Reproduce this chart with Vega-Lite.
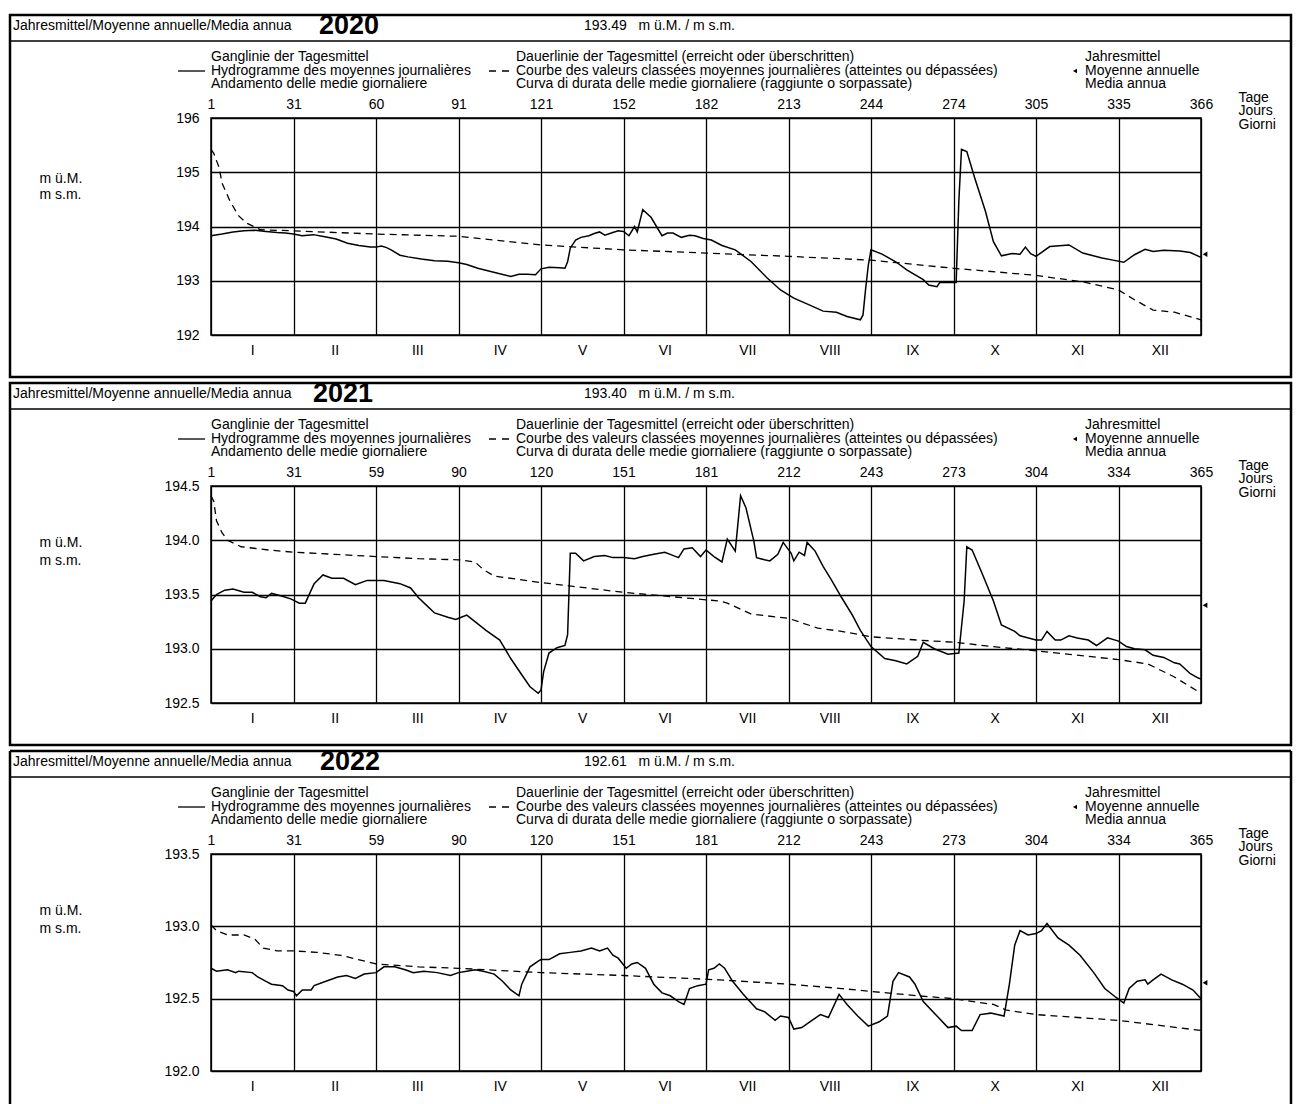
{
  "$schema": "https://vega.github.io/schema/vega-lite/v6.json",
  "background": "white",
  "padding": {"left": 8, "top": 11, "right": 0, "bottom": 0},
  "datasets": {
    "levels": [
      {"year":2020,"series":"Ganglinie","day":1,"level":193.83},{"year":2020,"series":"Ganglinie","day":5,"level":193.86},{"year":2020,"series":"Ganglinie","day":9,"level":193.90},{"year":2020,"series":"Ganglinie","day":13,"level":193.92},{"year":2020,"series":"Ganglinie","day":17,"level":193.93},{"year":2020,"series":"Ganglinie","day":21,"level":193.91},{"year":2020,"series":"Ganglinie","day":25,"level":193.89},{"year":2020,"series":"Ganglinie","day":28,"level":193.88},{"year":2020,"series":"Ganglinie","day":31,"level":193.86},{"year":2020,"series":"Ganglinie","day":34,"level":193.83},{"year":2020,"series":"Ganglinie","day":38,"level":193.85},{"year":2020,"series":"Ganglinie","day":42,"level":193.81},{"year":2020,"series":"Ganglinie","day":46,"level":193.77},{"year":2020,"series":"Ganglinie","day":50,"level":193.69},{"year":2020,"series":"Ganglinie","day":54,"level":193.65},{"year":2020,"series":"Ganglinie","day":58,"level":193.62},{"year":2020,"series":"Ganglinie","day":60,"level":193.62},{"year":2020,"series":"Ganglinie","day":62,"level":193.64},{"year":2020,"series":"Ganglinie","day":64,"level":193.61},{"year":2020,"series":"Ganglinie","day":66,"level":193.56},{"year":2020,"series":"Ganglinie","day":69,"level":193.47},{"year":2020,"series":"Ganglinie","day":72,"level":193.44},{"year":2020,"series":"Ganglinie","day":77,"level":193.40},{"year":2020,"series":"Ganglinie","day":82,"level":193.37},{"year":2020,"series":"Ganglinie","day":87,"level":193.36},{"year":2020,"series":"Ganglinie","day":91,"level":193.33},{"year":2020,"series":"Ganglinie","day":94,"level":193.30},{"year":2020,"series":"Ganglinie","day":98,"level":193.23},{"year":2020,"series":"Ganglinie","day":102,"level":193.18},{"year":2020,"series":"Ganglinie","day":106,"level":193.13},{"year":2020,"series":"Ganglinie","day":110,"level":193.08},{"year":2020,"series":"Ganglinie","day":113,"level":193.12},{"year":2020,"series":"Ganglinie","day":116,"level":193.12},{"year":2020,"series":"Ganglinie","day":119,"level":193.11},{"year":2020,"series":"Ganglinie","day":121,"level":193.22},{"year":2020,"series":"Ganglinie","day":124,"level":193.25},{"year":2020,"series":"Ganglinie","day":128,"level":193.24},{"year":2020,"series":"Ganglinie","day":130,"level":193.23},{"year":2020,"series":"Ganglinie","day":131,"level":193.35},{"year":2020,"series":"Ganglinie","day":132,"level":193.60},{"year":2020,"series":"Ganglinie","day":134,"level":193.75},{"year":2020,"series":"Ganglinie","day":136,"level":193.80},{"year":2020,"series":"Ganglinie","day":139,"level":193.83},{"year":2020,"series":"Ganglinie","day":141,"level":193.87},{"year":2020,"series":"Ganglinie","day":143,"level":193.90},{"year":2020,"series":"Ganglinie","day":145,"level":193.84},{"year":2020,"series":"Ganglinie","day":148,"level":193.89},{"year":2020,"series":"Ganglinie","day":150,"level":193.92},{"year":2020,"series":"Ganglinie","day":152,"level":193.91},{"year":2020,"series":"Ganglinie","day":154,"level":193.83},{"year":2020,"series":"Ganglinie","day":156,"level":194.00},{"year":2020,"series":"Ganglinie","day":157,"level":193.90},{"year":2020,"series":"Ganglinie","day":159,"level":194.31},{"year":2020,"series":"Ganglinie","day":162,"level":194.17},{"year":2020,"series":"Ganglinie","day":164,"level":194.00},{"year":2020,"series":"Ganglinie","day":166,"level":193.83},{"year":2020,"series":"Ganglinie","day":168,"level":193.88},{"year":2020,"series":"Ganglinie","day":170,"level":193.88},{"year":2020,"series":"Ganglinie","day":173,"level":193.80},{"year":2020,"series":"Ganglinie","day":176,"level":193.84},{"year":2020,"series":"Ganglinie","day":178,"level":193.83},{"year":2020,"series":"Ganglinie","day":181,"level":193.78},{"year":2020,"series":"Ganglinie","day":184,"level":193.75},{"year":2020,"series":"Ganglinie","day":188,"level":193.65},{"year":2020,"series":"Ganglinie","day":193,"level":193.57},{"year":2020,"series":"Ganglinie","day":199,"level":193.35},{"year":2020,"series":"Ganglinie","day":205,"level":193.05},{"year":2020,"series":"Ganglinie","day":210,"level":192.83},{"year":2020,"series":"Ganglinie","day":215,"level":192.68},{"year":2020,"series":"Ganglinie","day":221,"level":192.55},{"year":2020,"series":"Ganglinie","day":226,"level":192.44},{"year":2020,"series":"Ganglinie","day":231,"level":192.42},{"year":2020,"series":"Ganglinie","day":235,"level":192.34},{"year":2020,"series":"Ganglinie","day":240,"level":192.28},{"year":2020,"series":"Ganglinie","day":241,"level":192.37},{"year":2020,"series":"Ganglinie","day":242,"level":192.86},{"year":2020,"series":"Ganglinie","day":243,"level":193.29},{"year":2020,"series":"Ganglinie","day":244,"level":193.57},{"year":2020,"series":"Ganglinie","day":248,"level":193.49},{"year":2020,"series":"Ganglinie","day":253,"level":193.35},{"year":2020,"series":"Ganglinie","day":257,"level":193.20},{"year":2020,"series":"Ganglinie","day":263,"level":193.02},{"year":2020,"series":"Ganglinie","day":265,"level":192.92},{"year":2020,"series":"Ganglinie","day":268,"level":192.89},{"year":2020,"series":"Ganglinie","day":269,"level":192.97},{"year":2020,"series":"Ganglinie","day":272,"level":192.97},{"year":2020,"series":"Ganglinie","day":275,"level":192.97},{"year":2020,"series":"Ganglinie","day":276,"level":194.46},{"year":2020,"series":"Ganglinie","day":277,"level":195.42},{"year":2020,"series":"Ganglinie","day":279,"level":195.38},{"year":2020,"series":"Ganglinie","day":282,"level":194.89},{"year":2020,"series":"Ganglinie","day":286,"level":194.28},{"year":2020,"series":"Ganglinie","day":289,"level":193.72},{"year":2020,"series":"Ganglinie","day":292,"level":193.46},{"year":2020,"series":"Ganglinie","day":296,"level":193.50},{"year":2020,"series":"Ganglinie","day":299,"level":193.49},{"year":2020,"series":"Ganglinie","day":301,"level":193.62},{"year":2020,"series":"Ganglinie","day":303,"level":193.50},{"year":2020,"series":"Ganglinie","day":305,"level":193.45},{"year":2020,"series":"Ganglinie","day":310,"level":193.63},{"year":2020,"series":"Ganglinie","day":317,"level":193.66},{"year":2020,"series":"Ganglinie","day":322,"level":193.51},{"year":2020,"series":"Ganglinie","day":329,"level":193.42},{"year":2020,"series":"Ganglinie","day":333,"level":193.38},{"year":2020,"series":"Ganglinie","day":337,"level":193.34},{"year":2020,"series":"Ganglinie","day":341,"level":193.48},{"year":2020,"series":"Ganglinie","day":345,"level":193.58},{"year":2020,"series":"Ganglinie","day":348,"level":193.54},{"year":2020,"series":"Ganglinie","day":352,"level":193.56},{"year":2020,"series":"Ganglinie","day":358,"level":193.55},{"year":2020,"series":"Ganglinie","day":362,"level":193.52},{"year":2020,"series":"Ganglinie","day":366,"level":193.43},
      {"year":2020,"series":"Dauerlinie","day":1,"level":195.42},{"year":2020,"series":"Dauerlinie","day":2,"level":195.35},{"year":2020,"series":"Dauerlinie","day":4,"level":195.08},{"year":2020,"series":"Dauerlinie","day":5,"level":194.80},{"year":2020,"series":"Dauerlinie","day":8,"level":194.46},{"year":2020,"series":"Dauerlinie","day":11,"level":194.20},{"year":2020,"series":"Dauerlinie","day":14,"level":194.06},{"year":2020,"series":"Dauerlinie","day":19,"level":193.94},{"year":2020,"series":"Dauerlinie","day":31,"level":193.92},{"year":2020,"series":"Dauerlinie","day":60,"level":193.86},{"year":2020,"series":"Dauerlinie","day":91,"level":193.82},{"year":2020,"series":"Dauerlinie","day":121,"level":193.66},{"year":2020,"series":"Dauerlinie","day":152,"level":193.57},{"year":2020,"series":"Dauerlinie","day":182,"level":193.51},{"year":2020,"series":"Dauerlinie","day":213,"level":193.45},{"year":2020,"series":"Dauerlinie","day":244,"level":193.38},{"year":2020,"series":"Dauerlinie","day":274,"level":193.23},{"year":2020,"series":"Dauerlinie","day":305,"level":193.10},{"year":2020,"series":"Dauerlinie","day":323,"level":192.97},{"year":2020,"series":"Dauerlinie","day":335,"level":192.83},{"year":2020,"series":"Dauerlinie","day":341,"level":192.65},{"year":2020,"series":"Dauerlinie","day":348,"level":192.46},{"year":2020,"series":"Dauerlinie","day":356,"level":192.42},{"year":2020,"series":"Dauerlinie","day":366,"level":192.28},
      {"year":2020,"series":"Jahresmittel","day":366,"level":193.49},
      {"year":2021,"series":"Ganglinie","day":1,"level":193.44},{"year":2021,"series":"Ganglinie","day":3,"level":193.50},{"year":2021,"series":"Ganglinie","day":6,"level":193.54},{"year":2021,"series":"Ganglinie","day":9,"level":193.55},{"year":2021,"series":"Ganglinie","day":13,"level":193.52},{"year":2021,"series":"Ganglinie","day":16,"level":193.52},{"year":2021,"series":"Ganglinie","day":19,"level":193.48},{"year":2021,"series":"Ganglinie","day":21,"level":193.47},{"year":2021,"series":"Ganglinie","day":23,"level":193.51},{"year":2021,"series":"Ganglinie","day":26,"level":193.49},{"year":2021,"series":"Ganglinie","day":30,"level":193.46},{"year":2021,"series":"Ganglinie","day":33,"level":193.42},{"year":2021,"series":"Ganglinie","day":35,"level":193.42},{"year":2021,"series":"Ganglinie","day":36,"level":193.48},{"year":2021,"series":"Ganglinie","day":38,"level":193.60},{"year":2021,"series":"Ganglinie","day":41,"level":193.68},{"year":2021,"series":"Ganglinie","day":44,"level":193.65},{"year":2021,"series":"Ganglinie","day":48,"level":193.65},{"year":2021,"series":"Ganglinie","day":52,"level":193.59},{"year":2021,"series":"Ganglinie","day":56,"level":193.63},{"year":2021,"series":"Ganglinie","day":62,"level":193.63},{"year":2021,"series":"Ganglinie","day":68,"level":193.60},{"year":2021,"series":"Ganglinie","day":72,"level":193.56},{"year":2021,"series":"Ganglinie","day":75,"level":193.47},{"year":2021,"series":"Ganglinie","day":78,"level":193.40},{"year":2021,"series":"Ganglinie","day":81,"level":193.33},{"year":2021,"series":"Ganglinie","day":86,"level":193.29},{"year":2021,"series":"Ganglinie","day":89,"level":193.27},{"year":2021,"series":"Ganglinie","day":91,"level":193.29},{"year":2021,"series":"Ganglinie","day":93,"level":193.31},{"year":2021,"series":"Ganglinie","day":96,"level":193.25},{"year":2021,"series":"Ganglinie","day":100,"level":193.17},{"year":2021,"series":"Ganglinie","day":105,"level":193.08},{"year":2021,"series":"Ganglinie","day":109,"level":192.91},{"year":2021,"series":"Ganglinie","day":113,"level":192.76},{"year":2021,"series":"Ganglinie","day":116,"level":192.65},{"year":2021,"series":"Ganglinie","day":119,"level":192.59},{"year":2021,"series":"Ganglinie","day":120,"level":192.62},{"year":2021,"series":"Ganglinie","day":121,"level":192.79},{"year":2021,"series":"Ganglinie","day":123,"level":192.96},{"year":2021,"series":"Ganglinie","day":126,"level":193.01},{"year":2021,"series":"Ganglinie","day":129,"level":193.03},{"year":2021,"series":"Ganglinie","day":130,"level":193.13},{"year":2021,"series":"Ganglinie","day":131,"level":193.88},{"year":2021,"series":"Ganglinie","day":133,"level":193.88},{"year":2021,"series":"Ganglinie","day":136,"level":193.81},{"year":2021,"series":"Ganglinie","day":140,"level":193.85},{"year":2021,"series":"Ganglinie","day":144,"level":193.86},{"year":2021,"series":"Ganglinie","day":147,"level":193.84},{"year":2021,"series":"Ganglinie","day":151,"level":193.84},{"year":2021,"series":"Ganglinie","day":155,"level":193.83},{"year":2021,"series":"Ganglinie","day":158,"level":193.85},{"year":2021,"series":"Ganglinie","day":162,"level":193.87},{"year":2021,"series":"Ganglinie","day":166,"level":193.89},{"year":2021,"series":"Ganglinie","day":168,"level":193.87},{"year":2021,"series":"Ganglinie","day":171,"level":193.84},{"year":2021,"series":"Ganglinie","day":173,"level":193.92},{"year":2021,"series":"Ganglinie","day":176,"level":193.93},{"year":2021,"series":"Ganglinie","day":179,"level":193.85},{"year":2021,"series":"Ganglinie","day":181,"level":193.91},{"year":2021,"series":"Ganglinie","day":184,"level":193.85},{"year":2021,"series":"Ganglinie","day":187,"level":193.80},{"year":2021,"series":"Ganglinie","day":189,"level":194.01},{"year":2021,"series":"Ganglinie","day":192,"level":193.90},{"year":2021,"series":"Ganglinie","day":194,"level":194.41},{"year":2021,"series":"Ganglinie","day":196,"level":194.30},{"year":2021,"series":"Ganglinie","day":199,"level":193.99},{"year":2021,"series":"Ganglinie","day":200,"level":193.84},{"year":2021,"series":"Ganglinie","day":203,"level":193.82},{"year":2021,"series":"Ganglinie","day":205,"level":193.81},{"year":2021,"series":"Ganglinie","day":208,"level":193.87},{"year":2021,"series":"Ganglinie","day":210,"level":193.98},{"year":2021,"series":"Ganglinie","day":213,"level":193.88},{"year":2021,"series":"Ganglinie","day":214,"level":193.81},{"year":2021,"series":"Ganglinie","day":216,"level":193.89},{"year":2021,"series":"Ganglinie","day":218,"level":193.86},{"year":2021,"series":"Ganglinie","day":219,"level":193.98},{"year":2021,"series":"Ganglinie","day":222,"level":193.90},{"year":2021,"series":"Ganglinie","day":225,"level":193.76},{"year":2021,"series":"Ganglinie","day":228,"level":193.64},{"year":2021,"series":"Ganglinie","day":232,"level":193.47},{"year":2021,"series":"Ganglinie","day":236,"level":193.31},{"year":2021,"series":"Ganglinie","day":239,"level":193.17},{"year":2021,"series":"Ganglinie","day":243,"level":193.02},{"year":2021,"series":"Ganglinie","day":248,"level":192.91},{"year":2021,"series":"Ganglinie","day":252,"level":192.89},{"year":2021,"series":"Ganglinie","day":256,"level":192.86},{"year":2021,"series":"Ganglinie","day":260,"level":192.93},{"year":2021,"series":"Ganglinie","day":262,"level":193.06},{"year":2021,"series":"Ganglinie","day":266,"level":193.00},{"year":2021,"series":"Ganglinie","day":271,"level":192.95},{"year":2021,"series":"Ganglinie","day":275,"level":192.96},{"year":2021,"series":"Ganglinie","day":277,"level":193.44},{"year":2021,"series":"Ganglinie","day":278,"level":193.94},{"year":2021,"series":"Ganglinie","day":280,"level":193.91},{"year":2021,"series":"Ganglinie","day":284,"level":193.68},{"year":2021,"series":"Ganglinie","day":288,"level":193.44},{"year":2021,"series":"Ganglinie","day":291,"level":193.22},{"year":2021,"series":"Ganglinie","day":296,"level":193.16},{"year":2021,"series":"Ganglinie","day":298,"level":193.12},{"year":2021,"series":"Ganglinie","day":304,"level":193.08},{"year":2021,"series":"Ganglinie","day":306,"level":193.08},{"year":2021,"series":"Ganglinie","day":308,"level":193.16},{"year":2021,"series":"Ganglinie","day":311,"level":193.08},{"year":2021,"series":"Ganglinie","day":313,"level":193.08},{"year":2021,"series":"Ganglinie","day":316,"level":193.12},{"year":2021,"series":"Ganglinie","day":319,"level":193.10},{"year":2021,"series":"Ganglinie","day":323,"level":193.08},{"year":2021,"series":"Ganglinie","day":326,"level":193.03},{"year":2021,"series":"Ganglinie","day":330,"level":193.10},{"year":2021,"series":"Ganglinie","day":334,"level":193.07},{"year":2021,"series":"Ganglinie","day":337,"level":193.02},{"year":2021,"series":"Ganglinie","day":340,"level":193.00},{"year":2021,"series":"Ganglinie","day":344,"level":192.99},{"year":2021,"series":"Ganglinie","day":347,"level":192.94},{"year":2021,"series":"Ganglinie","day":351,"level":192.92},{"year":2021,"series":"Ganglinie","day":355,"level":192.87},{"year":2021,"series":"Ganglinie","day":357,"level":192.86},{"year":2021,"series":"Ganglinie","day":361,"level":192.77},{"year":2021,"series":"Ganglinie","day":364,"level":192.73},{"year":2021,"series":"Ganglinie","day":365,"level":192.72},
      {"year":2021,"series":"Dauerlinie","day":1,"level":194.41},{"year":2021,"series":"Dauerlinie","day":2,"level":194.36},{"year":2021,"series":"Dauerlinie","day":3,"level":194.18},{"year":2021,"series":"Dauerlinie","day":5,"level":194.07},{"year":2021,"series":"Dauerlinie","day":7,"level":194.00},{"year":2021,"series":"Dauerlinie","day":12,"level":193.94},{"year":2021,"series":"Dauerlinie","day":22,"level":193.91},{"year":2021,"series":"Dauerlinie","day":31,"level":193.89},{"year":2021,"series":"Dauerlinie","day":45,"level":193.87},{"year":2021,"series":"Dauerlinie","day":59,"level":193.85},{"year":2021,"series":"Dauerlinie","day":75,"level":193.83},{"year":2021,"series":"Dauerlinie","day":90,"level":193.82},{"year":2021,"series":"Dauerlinie","day":96,"level":193.80},{"year":2021,"series":"Dauerlinie","day":99,"level":193.73},{"year":2021,"series":"Dauerlinie","day":103,"level":193.67},{"year":2021,"series":"Dauerlinie","day":120,"level":193.61},{"year":2021,"series":"Dauerlinie","day":151,"level":193.52},{"year":2021,"series":"Dauerlinie","day":186,"level":193.44},{"year":2021,"series":"Dauerlinie","day":189,"level":193.42},{"year":2021,"series":"Dauerlinie","day":198,"level":193.32},{"year":2021,"series":"Dauerlinie","day":212,"level":193.28},{"year":2021,"series":"Dauerlinie","day":223,"level":193.19},{"year":2021,"series":"Dauerlinie","day":232,"level":193.16},{"year":2021,"series":"Dauerlinie","day":243,"level":193.11},{"year":2021,"series":"Dauerlinie","day":260,"level":193.08},{"year":2021,"series":"Dauerlinie","day":273,"level":193.06},{"year":2021,"series":"Dauerlinie","day":288,"level":193.02},{"year":2021,"series":"Dauerlinie","day":304,"level":192.98},{"year":2021,"series":"Dauerlinie","day":334,"level":192.90},{"year":2021,"series":"Dauerlinie","day":345,"level":192.86},{"year":2021,"series":"Dauerlinie","day":355,"level":192.74},{"year":2021,"series":"Dauerlinie","day":365,"level":192.59},
      {"year":2021,"series":"Jahresmittel","day":365,"level":193.40},
      {"year":2022,"series":"Ganglinie","day":1,"level":192.71},{"year":2022,"series":"Ganglinie","day":3,"level":192.69},{"year":2022,"series":"Ganglinie","day":7,"level":192.70},{"year":2022,"series":"Ganglinie","day":10,"level":192.68},{"year":2022,"series":"Ganglinie","day":11,"level":192.69},{"year":2022,"series":"Ganglinie","day":16,"level":192.68},{"year":2022,"series":"Ganglinie","day":18,"level":192.65},{"year":2022,"series":"Ganglinie","day":21,"level":192.62},{"year":2022,"series":"Ganglinie","day":23,"level":192.60},{"year":2022,"series":"Ganglinie","day":27,"level":192.59},{"year":2022,"series":"Ganglinie","day":29,"level":192.56},{"year":2022,"series":"Ganglinie","day":31,"level":192.55},{"year":2022,"series":"Ganglinie","day":32,"level":192.52},{"year":2022,"series":"Ganglinie","day":34,"level":192.56},{"year":2022,"series":"Ganglinie","day":37,"level":192.56},{"year":2022,"series":"Ganglinie","day":38,"level":192.59},{"year":2022,"series":"Ganglinie","day":42,"level":192.62},{"year":2022,"series":"Ganglinie","day":46,"level":192.65},{"year":2022,"series":"Ganglinie","day":49,"level":192.66},{"year":2022,"series":"Ganglinie","day":52,"level":192.64},{"year":2022,"series":"Ganglinie","day":55,"level":192.67},{"year":2022,"series":"Ganglinie","day":59,"level":192.68},{"year":2022,"series":"Ganglinie","day":62,"level":192.72},{"year":2022,"series":"Ganglinie","day":66,"level":192.72},{"year":2022,"series":"Ganglinie","day":70,"level":192.70},{"year":2022,"series":"Ganglinie","day":73,"level":192.68},{"year":2022,"series":"Ganglinie","day":77,"level":192.69},{"year":2022,"series":"Ganglinie","day":82,"level":192.68},{"year":2022,"series":"Ganglinie","day":87,"level":192.66},{"year":2022,"series":"Ganglinie","day":90,"level":192.68},{"year":2022,"series":"Ganglinie","day":93,"level":192.69},{"year":2022,"series":"Ganglinie","day":96,"level":192.70},{"year":2022,"series":"Ganglinie","day":99,"level":192.69},{"year":2022,"series":"Ganglinie","day":103,"level":192.67},{"year":2022,"series":"Ganglinie","day":106,"level":192.62},{"year":2022,"series":"Ganglinie","day":109,"level":192.56},{"year":2022,"series":"Ganglinie","day":112,"level":192.52},{"year":2022,"series":"Ganglinie","day":113,"level":192.60},{"year":2022,"series":"Ganglinie","day":116,"level":192.72},{"year":2022,"series":"Ganglinie","day":119,"level":192.76},{"year":2022,"series":"Ganglinie","day":120,"level":192.77},{"year":2022,"series":"Ganglinie","day":123,"level":192.77},{"year":2022,"series":"Ganglinie","day":127,"level":192.81},{"year":2022,"series":"Ganglinie","day":131,"level":192.82},{"year":2022,"series":"Ganglinie","day":135,"level":192.83},{"year":2022,"series":"Ganglinie","day":139,"level":192.85},{"year":2022,"series":"Ganglinie","day":142,"level":192.83},{"year":2022,"series":"Ganglinie","day":145,"level":192.85},{"year":2022,"series":"Ganglinie","day":147,"level":192.80},{"year":2022,"series":"Ganglinie","day":149,"level":192.78},{"year":2022,"series":"Ganglinie","day":152,"level":192.71},{"year":2022,"series":"Ganglinie","day":154,"level":192.74},{"year":2022,"series":"Ganglinie","day":156,"level":192.75},{"year":2022,"series":"Ganglinie","day":159,"level":192.71},{"year":2022,"series":"Ganglinie","day":162,"level":192.60},{"year":2022,"series":"Ganglinie","day":165,"level":192.54},{"year":2022,"series":"Ganglinie","day":168,"level":192.52},{"year":2022,"series":"Ganglinie","day":171,"level":192.48},{"year":2022,"series":"Ganglinie","day":173,"level":192.46},{"year":2022,"series":"Ganglinie","day":175,"level":192.57},{"year":2022,"series":"Ganglinie","day":178,"level":192.59},{"year":2022,"series":"Ganglinie","day":181,"level":192.60},{"year":2022,"series":"Ganglinie","day":182,"level":192.70},{"year":2022,"series":"Ganglinie","day":184,"level":192.71},{"year":2022,"series":"Ganglinie","day":186,"level":192.74},{"year":2022,"series":"Ganglinie","day":188,"level":192.71},{"year":2022,"series":"Ganglinie","day":191,"level":192.62},{"year":2022,"series":"Ganglinie","day":195,"level":192.53},{"year":2022,"series":"Ganglinie","day":200,"level":192.43},{"year":2022,"series":"Ganglinie","day":203,"level":192.41},{"year":2022,"series":"Ganglinie","day":207,"level":192.35},{"year":2022,"series":"Ganglinie","day":209,"level":192.38},{"year":2022,"series":"Ganglinie","day":212,"level":192.37},{"year":2022,"series":"Ganglinie","day":214,"level":192.29},{"year":2022,"series":"Ganglinie","day":217,"level":192.30},{"year":2022,"series":"Ganglinie","day":220,"level":192.34},{"year":2022,"series":"Ganglinie","day":224,"level":192.39},{"year":2022,"series":"Ganglinie","day":227,"level":192.37},{"year":2022,"series":"Ganglinie","day":231,"level":192.53},{"year":2022,"series":"Ganglinie","day":234,"level":192.46},{"year":2022,"series":"Ganglinie","day":238,"level":192.38},{"year":2022,"series":"Ganglinie","day":242,"level":192.31},{"year":2022,"series":"Ganglinie","day":246,"level":192.34},{"year":2022,"series":"Ganglinie","day":249,"level":192.38},{"year":2022,"series":"Ganglinie","day":251,"level":192.62},{"year":2022,"series":"Ganglinie","day":253,"level":192.68},{"year":2022,"series":"Ganglinie","day":257,"level":192.65},{"year":2022,"series":"Ganglinie","day":259,"level":192.60},{"year":2022,"series":"Ganglinie","day":262,"level":192.48},{"year":2022,"series":"Ganglinie","day":267,"level":192.38},{"year":2022,"series":"Ganglinie","day":271,"level":192.30},{"year":2022,"series":"Ganglinie","day":274,"level":192.31},{"year":2022,"series":"Ganglinie","day":276,"level":192.28},{"year":2022,"series":"Ganglinie","day":280,"level":192.28},{"year":2022,"series":"Ganglinie","day":283,"level":192.39},{"year":2022,"series":"Ganglinie","day":287,"level":192.40},{"year":2022,"series":"Ganglinie","day":292,"level":192.38},{"year":2022,"series":"Ganglinie","day":294,"level":192.60},{"year":2022,"series":"Ganglinie","day":296,"level":192.87},{"year":2022,"series":"Ganglinie","day":298,"level":192.97},{"year":2022,"series":"Ganglinie","day":301,"level":192.94},{"year":2022,"series":"Ganglinie","day":304,"level":192.95},{"year":2022,"series":"Ganglinie","day":306,"level":192.97},{"year":2022,"series":"Ganglinie","day":308,"level":193.02},{"year":2022,"series":"Ganglinie","day":312,"level":192.92},{"year":2022,"series":"Ganglinie","day":316,"level":192.87},{"year":2022,"series":"Ganglinie","day":320,"level":192.80},{"year":2022,"series":"Ganglinie","day":325,"level":192.68},{"year":2022,"series":"Ganglinie","day":329,"level":192.57},{"year":2022,"series":"Ganglinie","day":333,"level":192.51},{"year":2022,"series":"Ganglinie","day":336,"level":192.47},{"year":2022,"series":"Ganglinie","day":338,"level":192.57},{"year":2022,"series":"Ganglinie","day":341,"level":192.62},{"year":2022,"series":"Ganglinie","day":344,"level":192.63},{"year":2022,"series":"Ganglinie","day":345,"level":192.60},{"year":2022,"series":"Ganglinie","day":347,"level":192.63},{"year":2022,"series":"Ganglinie","day":350,"level":192.67},{"year":2022,"series":"Ganglinie","day":354,"level":192.63},{"year":2022,"series":"Ganglinie","day":358,"level":192.60},{"year":2022,"series":"Ganglinie","day":362,"level":192.56},{"year":2022,"series":"Ganglinie","day":365,"level":192.50},
      {"year":2022,"series":"Dauerlinie","day":1,"level":193.01},{"year":2022,"series":"Dauerlinie","day":2,"level":192.99},{"year":2022,"series":"Dauerlinie","day":3,"level":192.97},{"year":2022,"series":"Dauerlinie","day":7,"level":192.94},{"year":2022,"series":"Dauerlinie","day":13,"level":192.94},{"year":2022,"series":"Dauerlinie","day":17,"level":192.91},{"year":2022,"series":"Dauerlinie","day":20,"level":192.85},{"year":2022,"series":"Dauerlinie","day":25,"level":192.83},{"year":2022,"series":"Dauerlinie","day":31,"level":192.83},{"year":2022,"series":"Dauerlinie","day":39,"level":192.82},{"year":2022,"series":"Dauerlinie","day":47,"level":192.80},{"year":2022,"series":"Dauerlinie","day":53,"level":192.77},{"year":2022,"series":"Dauerlinie","day":59,"level":192.74},{"year":2022,"series":"Dauerlinie","day":75,"level":192.72},{"year":2022,"series":"Dauerlinie","day":90,"level":192.71},{"year":2022,"series":"Dauerlinie","day":120,"level":192.68},{"year":2022,"series":"Dauerlinie","day":151,"level":192.66},{"year":2022,"series":"Dauerlinie","day":186,"level":192.63},{"year":2022,"series":"Dauerlinie","day":212,"level":192.60},{"year":2022,"series":"Dauerlinie","day":232,"level":192.57},{"year":2022,"series":"Dauerlinie","day":243,"level":192.55},{"year":2022,"series":"Dauerlinie","day":260,"level":192.52},{"year":2022,"series":"Dauerlinie","day":273,"level":192.50},{"year":2022,"series":"Dauerlinie","day":288,"level":192.46},{"year":2022,"series":"Dauerlinie","day":293,"level":192.42},{"year":2022,"series":"Dauerlinie","day":304,"level":192.39},{"year":2022,"series":"Dauerlinie","day":334,"level":192.35},{"year":2022,"series":"Dauerlinie","day":365,"level":192.28},
      {"year":2022,"series":"Jahresmittel","day":365,"level":192.61}
    ]
  },
  "config": {
    "view": {"stroke": "black", "strokeWidth": 1.5},
    "font": "Liberation Sans",
    "axis": {"labelFont": "Liberation Sans", "labelFontSize": 14, "labelColor": "black", "titleFont": "Liberation Sans", "titleFontSize": 14, "titleFontWeight": "normal", "titleColor": "black", "gridColor": "black", "gridOpacity": 1, "gridWidth": 1.3, "ticks": false, "domain": false, "labelOverlap": false},
    "text": {"font": "Liberation Sans", "fontSize": 14, "color": "black", "align": "left", "baseline": "middle", "lineHeight": 13.5},
    "line": {"color": "black", "strokeWidth": 1.4},
    "rule": {"color": "black"}
  },
  "vconcat": [
    {
      "width": 990, "height": 217,
      "encoding": {
        "x": {"field": "day", "type": "quantitative",
          "scale": {"domain": [1,31,60,91,121,152,182,213,244,274,305,335,366], "range": [0,82.5,165,247.5,330,412.5,495,577.5,660,742.5,825,907.5,990], "nice": false, "zero": false},
          "axis": {"orient": "top", "values": [1,31,60,91,121,152,182,213,244,274,305,335,366], "format": "d", "grid": true, "labelPadding": 7, "labelFlush": false, "labelBound": false, "title": ["Tage","Jours","Giorni"], "titleAngle": 0, "titleX": 1027, "titleY": -28, "titleAlign": "left", "titleAnchor": "start", "titleBaseline": "top", "titleLineHeight": 13.5}},
        "y": {"field": "level", "type": "quantitative",
          "scale": {"domain": [192,196], "nice": false, "zero": false},
          "axis": {"values": [192,193,194,195,196], "format": "d", "grid": true, "labelPadding": 12, "title": ["m ü.M.","m s.m."], "titleAngle": 0, "titleX": -172, "titleY": 53, "titleAlign": "left", "titleAnchor": "start", "titleBaseline": "top", "titleLineHeight": 16}}
      },
      "layer": [
        {"data": {"values": [{}]}, "mark": {"type": "rect", "fill": "white", "fillOpacity": 0, "stroke": "black", "strokeWidth": 2.5}, "encoding": {"x": {"value": -201}, "x2": {"value": 1080}, "y": {"value": -103}, "y2": {"value": 259}}},
        {"data": {"values": [{}]}, "mark": {"type": "rule", "strokeWidth": 1.5}, "encoding": {"x": {"value": -201}, "x2": {"value": 1080}, "y": {"value": -77}}},
        {"data": {"values": [{}]}, "mark": {"type": "text", "text": "Jahresmittel/Moyenne annuelle/Media annua"}, "encoding": {"x": {"value": -198}, "y": {"value": -92}}},
        {"data": {"values": [{}]}, "mark": {"type": "text", "text": "2020", "fontSize": 27, "fontWeight": "bold"}, "encoding": {"x": {"value": 108}, "y": {"value": -92}}},
        {"data": {"values": [{}]}, "mark": {"type": "text", "text": "193.49\u00a0\u00a0 m ü.M. / m s.m."}, "encoding": {"x": {"value": 373}, "y": {"value": -92}}},
        {"data": {"values": [{}]}, "mark": {"type": "text", "text": ["Ganglinie der Tagesmittel","Hydrogramme des moyennes journalières","Andamento delle medie giornaliere"]}, "encoding": {"x": {"value": 0}, "y": {"value": -61}}},
        {"data": {"values": [{}]}, "mark": {"type": "text", "text": ["Dauerlinie der Tagesmittel (erreicht oder überschritten)","Courbe des valeurs classées moyennes journalières (atteintes ou dépassées)","Curva di durata delle medie giornaliere (raggiunte o sorpassate)"]}, "encoding": {"x": {"value": 305}, "y": {"value": -61}}},
        {"data": {"values": [{}]}, "mark": {"type": "text", "text": ["Jahresmittel","Moyenne annuelle","Media annua"]}, "encoding": {"x": {"value": 874}, "y": {"value": -61}}},
        {"data": {"values": [{}]}, "mark": {"type": "rule", "strokeWidth": 1.3}, "encoding": {"x": {"value": -33}, "x2": {"value": -6}, "y": {"value": -47}}},
        {"data": {"values": [{}]}, "mark": {"type": "rule", "strokeWidth": 1.3, "strokeDash": [7,6]}, "encoding": {"x": {"value": 278}, "x2": {"value": 299}, "y": {"value": -47}}},
        {"data": {"values": [{}]}, "mark": {"type": "point", "shape": "triangle-left", "filled": true, "color": "black", "opacity": 1, "size": 22}, "encoding": {"x": {"value": 864}, "y": {"value": -47}}},
        {"data": {"name": "levels"}, "transform": [{"filter": "datum.year == 2020 && datum.series == 'Ganglinie'"}], "mark": {"type": "line", "strokeWidth": 1.5}},
        {"data": {"name": "levels"}, "transform": [{"filter": "datum.year == 2020 && datum.series == 'Dauerlinie'"}], "mark": {"type": "line", "strokeWidth": 1.3, "strokeDash": [7,5]},
          "encoding": {"x": {"field": "day", "type": "quantitative",
            "scale": {"domain": [1,31,60,91,121,152,182,213,244,274,305,335,366], "range": [0,82.5,165,247.5,330,412.5,495,577.5,660,742.5,825,907.5,990], "nice": false, "zero": false},
            "axis": {"orient": "bottom", "values": [16,45.5,75.5,106,136.5,167,197.5,228.5,259,289.5,320,350.5], "labelExpr": "['I','II','III','IV','V','VI','VII','VIII','IX','X','XI','XII'][indexof([16,45.5,75.5,106,136.5,167,197.5,228.5,259,289.5,320,350.5], datum.value)]", "grid": false, "labelPadding": 8, "labelFlush": false, "title": null}}}},
        {"data": {"name": "levels"}, "transform": [{"filter": "datum.year == 2020 && datum.series == 'Jahresmittel'"}], "mark": {"type": "point", "shape": "triangle-left", "filled": true, "color": "black", "opacity": 1, "size": 30, "xOffset": 4},
          "encoding": {"x": {"field": "day", "type": "quantitative", "axis": null}}}
      ],
      "resolve": {"axis": {"x": "independent"}}
    },
    {
      "width": 990, "height": 217,
      "encoding": {
        "x": {"field": "day", "type": "quantitative",
          "scale": {"domain": [1,31,59,90,120,151,181,212,243,273,304,334,365], "range": [0,82.5,165,247.5,330,412.5,495,577.5,660,742.5,825,907.5,990], "nice": false, "zero": false},
          "axis": {"orient": "top", "values": [1,31,59,90,120,151,181,212,243,273,304,334,365], "format": "d", "grid": true, "labelPadding": 7, "labelFlush": false, "labelBound": false, "title": ["Tage","Jours","Giorni"], "titleAngle": 0, "titleX": 1027, "titleY": -28, "titleAlign": "left", "titleAnchor": "start", "titleBaseline": "top", "titleLineHeight": 13.5}},
        "y": {"field": "level", "type": "quantitative",
          "scale": {"domain": [192.5,194.5], "nice": false, "zero": false},
          "axis": {"values": [192.5,193,193.5,194,194.5], "format": ".1f", "grid": true, "labelPadding": 12, "title": ["m ü.M.","m s.m."], "titleAngle": 0, "titleX": -172, "titleY": 49, "titleAlign": "left", "titleAnchor": "start", "titleBaseline": "top", "titleLineHeight": 18}}
      },
      "layer": [
        {"data": {"values": [{}]}, "mark": {"type": "rect", "fill": "white", "fillOpacity": 0, "stroke": "black", "strokeWidth": 2.5}, "encoding": {"x": {"value": -201}, "x2": {"value": 1080}, "y": {"value": -103}, "y2": {"value": 259}}},
        {"data": {"values": [{}]}, "mark": {"type": "rule", "strokeWidth": 1.5}, "encoding": {"x": {"value": -201}, "x2": {"value": 1080}, "y": {"value": -77}}},
        {"data": {"values": [{}]}, "mark": {"type": "text", "text": "Jahresmittel/Moyenne annuelle/Media annua"}, "encoding": {"x": {"value": -198}, "y": {"value": -92}}},
        {"data": {"values": [{}]}, "mark": {"type": "text", "text": "2021", "fontSize": 27, "fontWeight": "bold"}, "encoding": {"x": {"value": 102}, "y": {"value": -92}}},
        {"data": {"values": [{}]}, "mark": {"type": "text", "text": "193.40\u00a0\u00a0 m ü.M. / m s.m."}, "encoding": {"x": {"value": 373}, "y": {"value": -92}}},
        {"data": {"values": [{}]}, "mark": {"type": "text", "text": ["Ganglinie der Tagesmittel","Hydrogramme des moyennes journalières","Andamento delle medie giornaliere"]}, "encoding": {"x": {"value": 0}, "y": {"value": -61}}},
        {"data": {"values": [{}]}, "mark": {"type": "text", "text": ["Dauerlinie der Tagesmittel (erreicht oder überschritten)","Courbe des valeurs classées moyennes journalières (atteintes ou dépassées)","Curva di durata delle medie giornaliere (raggiunte o sorpassate)"]}, "encoding": {"x": {"value": 305}, "y": {"value": -61}}},
        {"data": {"values": [{}]}, "mark": {"type": "text", "text": ["Jahresmittel","Moyenne annuelle","Media annua"]}, "encoding": {"x": {"value": 874}, "y": {"value": -61}}},
        {"data": {"values": [{}]}, "mark": {"type": "rule", "strokeWidth": 1.3}, "encoding": {"x": {"value": -33}, "x2": {"value": -6}, "y": {"value": -47}}},
        {"data": {"values": [{}]}, "mark": {"type": "rule", "strokeWidth": 1.3, "strokeDash": [7,6]}, "encoding": {"x": {"value": 278}, "x2": {"value": 299}, "y": {"value": -47}}},
        {"data": {"values": [{}]}, "mark": {"type": "point", "shape": "triangle-left", "filled": true, "color": "black", "opacity": 1, "size": 22}, "encoding": {"x": {"value": 864}, "y": {"value": -47}}},
        {"data": {"name": "levels"}, "transform": [{"filter": "datum.year == 2021 && datum.series == 'Ganglinie'"}], "mark": {"type": "line", "strokeWidth": 1.5}},
        {"data": {"name": "levels"}, "transform": [{"filter": "datum.year == 2021 && datum.series == 'Dauerlinie'"}], "mark": {"type": "line", "strokeWidth": 1.3, "strokeDash": [7,5]},
          "encoding": {"x": {"field": "day", "type": "quantitative",
            "scale": {"domain": [1,31,59,90,120,151,181,212,243,273,304,334,365], "range": [0,82.5,165,247.5,330,412.5,495,577.5,660,742.5,825,907.5,990], "nice": false, "zero": false},
            "axis": {"orient": "bottom", "values": [16,45,74.5,105,135.5,166,196.5,227.5,258,288.5,319,349.5], "labelExpr": "['I','II','III','IV','V','VI','VII','VIII','IX','X','XI','XII'][indexof([16,45,74.5,105,135.5,166,196.5,227.5,258,288.5,319,349.5], datum.value)]", "grid": false, "labelPadding": 8, "labelFlush": false, "title": null}}}},
        {"data": {"name": "levels"}, "transform": [{"filter": "datum.year == 2021 && datum.series == 'Jahresmittel'"}], "mark": {"type": "point", "shape": "triangle-left", "filled": true, "color": "black", "opacity": 1, "size": 30, "xOffset": 4},
          "encoding": {"x": {"field": "day", "type": "quantitative", "axis": null}}}
      ],
      "resolve": {"axis": {"x": "independent"}}
    },
    {
      "width": 990, "height": 217,
      "encoding": {
        "x": {"field": "day", "type": "quantitative",
          "scale": {"domain": [1,31,59,90,120,151,181,212,243,273,304,334,365], "range": [0,82.5,165,247.5,330,412.5,495,577.5,660,742.5,825,907.5,990], "nice": false, "zero": false},
          "axis": {"orient": "top", "values": [1,31,59,90,120,151,181,212,243,273,304,334,365], "format": "d", "grid": true, "labelPadding": 7, "labelFlush": false, "labelBound": false, "title": ["Tage","Jours","Giorni"], "titleAngle": 0, "titleX": 1027, "titleY": -28, "titleAlign": "left", "titleAnchor": "start", "titleBaseline": "top", "titleLineHeight": 13.5}},
        "y": {"field": "level", "type": "quantitative",
          "scale": {"domain": [192,193.5], "nice": false, "zero": false},
          "axis": {"values": [192,192.5,193,193.5], "format": ".1f", "grid": true, "labelPadding": 12, "title": ["m ü.M.","m s.m."], "titleAngle": 0, "titleX": -172, "titleY": 49, "titleAlign": "left", "titleAnchor": "start", "titleBaseline": "top", "titleLineHeight": 18}}
      },
      "layer": [
        {"data": {"values": [{}]}, "mark": {"type": "rule", "strokeWidth": 2.5}, "encoding": {"x": {"value": -201}, "x2": {"value": 1080}, "y": {"value": -103}}},
        {"data": {"values": [{}]}, "mark": {"type": "rule", "strokeWidth": 2.5}, "encoding": {"x": {"value": -201}, "y": {"value": -103}, "y2": {"value": 250}}},
        {"data": {"values": [{}]}, "mark": {"type": "rule", "strokeWidth": 2.5}, "encoding": {"x": {"value": 1080}, "y": {"value": -103}, "y2": {"value": 250}}},
        {"data": {"values": [{}]}, "mark": {"type": "rule", "strokeWidth": 1.5}, "encoding": {"x": {"value": -201}, "x2": {"value": 1080}, "y": {"value": -77}}},
        {"data": {"values": [{}]}, "mark": {"type": "text", "text": "Jahresmittel/Moyenne annuelle/Media annua"}, "encoding": {"x": {"value": -198}, "y": {"value": -92}}},
        {"data": {"values": [{}]}, "mark": {"type": "text", "text": "2022", "fontSize": 27, "fontWeight": "bold"}, "encoding": {"x": {"value": 109}, "y": {"value": -92}}},
        {"data": {"values": [{}]}, "mark": {"type": "text", "text": "192.61\u00a0\u00a0 m ü.M. / m s.m."}, "encoding": {"x": {"value": 373}, "y": {"value": -92}}},
        {"data": {"values": [{}]}, "mark": {"type": "text", "text": ["Ganglinie der Tagesmittel","Hydrogramme des moyennes journalières","Andamento delle medie giornaliere"]}, "encoding": {"x": {"value": 0}, "y": {"value": -61}}},
        {"data": {"values": [{}]}, "mark": {"type": "text", "text": ["Dauerlinie der Tagesmittel (erreicht oder überschritten)","Courbe des valeurs classées moyennes journalières (atteintes ou dépassées)","Curva di durata delle medie giornaliere (raggiunte o sorpassate)"]}, "encoding": {"x": {"value": 305}, "y": {"value": -61}}},
        {"data": {"values": [{}]}, "mark": {"type": "text", "text": ["Jahresmittel","Moyenne annuelle","Media annua"]}, "encoding": {"x": {"value": 874}, "y": {"value": -61}}},
        {"data": {"values": [{}]}, "mark": {"type": "rule", "strokeWidth": 1.3}, "encoding": {"x": {"value": -33}, "x2": {"value": -6}, "y": {"value": -47}}},
        {"data": {"values": [{}]}, "mark": {"type": "rule", "strokeWidth": 1.3, "strokeDash": [7,6]}, "encoding": {"x": {"value": 278}, "x2": {"value": 299}, "y": {"value": -47}}},
        {"data": {"values": [{}]}, "mark": {"type": "point", "shape": "triangle-left", "filled": true, "color": "black", "opacity": 1, "size": 22}, "encoding": {"x": {"value": 864}, "y": {"value": -47}}},
        {"data": {"name": "levels"}, "transform": [{"filter": "datum.year == 2022 && datum.series == 'Ganglinie'"}], "mark": {"type": "line", "strokeWidth": 1.5}},
        {"data": {"name": "levels"}, "transform": [{"filter": "datum.year == 2022 && datum.series == 'Dauerlinie'"}], "mark": {"type": "line", "strokeWidth": 1.3, "strokeDash": [7,5]},
          "encoding": {"x": {"field": "day", "type": "quantitative",
            "scale": {"domain": [1,31,59,90,120,151,181,212,243,273,304,334,365], "range": [0,82.5,165,247.5,330,412.5,495,577.5,660,742.5,825,907.5,990], "nice": false, "zero": false},
            "axis": {"orient": "bottom", "values": [16,45,74.5,105,135.5,166,196.5,227.5,258,288.5,319,349.5], "labelExpr": "['I','II','III','IV','V','VI','VII','VIII','IX','X','XI','XII'][indexof([16,45,74.5,105,135.5,166,196.5,227.5,258,288.5,319,349.5], datum.value)]", "grid": false, "labelPadding": 8, "labelFlush": false, "title": null}}}},
        {"data": {"name": "levels"}, "transform": [{"filter": "datum.year == 2022 && datum.series == 'Jahresmittel'"}], "mark": {"type": "point", "shape": "triangle-left", "filled": true, "color": "black", "opacity": 1, "size": 30, "xOffset": 4},
          "encoding": {"x": {"field": "day", "type": "quantitative", "axis": null}}}
      ],
      "resolve": {"axis": {"x": "independent"}}
    }
  ],
  "spacing": 151,
  "bounds": "flush"
}
